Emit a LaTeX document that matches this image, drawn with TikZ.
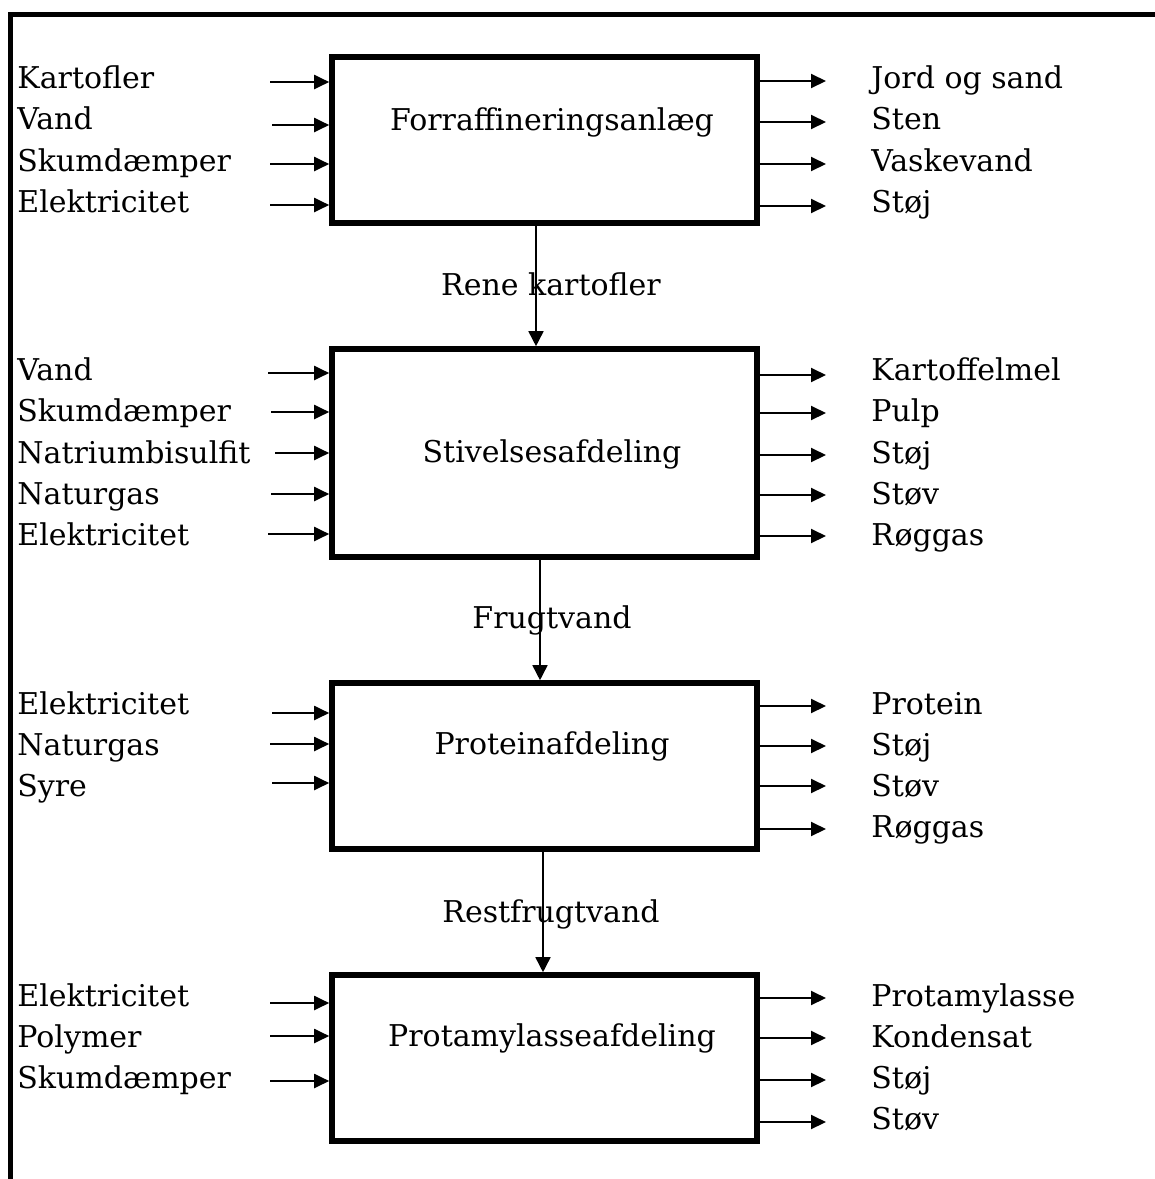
\documentclass[tikz,border=0pt]{standalone}
\usepackage{fontspec}
\setmainfont{DejaVu Serif}
\usetikzlibrary{arrows.meta,positioning}

\begin{document}
\begin{tikzpicture}[x=0.5pt, y=-0.5pt, font=\fontsize{15}{18}\selectfont,
    >={Triangle[length=7.5pt, width=7pt]},
    box/.style = {draw, line width=2.8pt, minimum width=212.5pt, inner sep=0pt},
    txt/.style = {anchor=base west, inner sep=0pt},
    mid/.style = {anchor=base, inner sep=0pt},
    flow/.style = {->, line width=1pt},
    main/.style = {-{Triangle[length=7.5pt, width=7.5pt]}, line width=0.8pt}]
    % Billedets ramme og marginer.
    \useasboundingbox (0,0) rectangle (1155,1179);
    \draw[line width=2.3pt] (10.5,1179) -- (10.5,14.5) -- (1155,14.5);

    % De fire afdelinger:
    \node[box, minimum height=83pt]  (forr) at (544.5,140)  {};
    \node[box, minimum height=104pt] (stiv) at (544.5,453)  {};
    \node[box, minimum height=83pt]  (prot) at (544.5,766)  {};
    \node[box, minimum height=83pt]  (pam)  at (544.5,1058) {};

    \node[mid] (forrT) at (552,130)  {Forraffineringsanlæg};
    \node[mid] (stivT) at (552,462)  {Stivelsesafdeling};
    \node[mid] (protT) at (552,754)  {Proteinafdeling};
    \node[mid] (pamT)  at (552,1046) {Protamylasseafdeling};

    % Tilførsler (tekst, grundlinje, pilens hoejde, pilens start).
    \foreach \t/\b/\a/\s [count=\i] in {Kartofler/88/82/270, Vand/129/125/272,
        Skumdæmper/171/164/270, Elektricitet/212/205/270} {
        \node[txt] (forrIn\i) at (17,\b) {\t};
        \coordinate (forrInS\i) at (\s,\a);
        \draw[flow] (forrInS\i) -- (forrInS\i -| forr.west);
    }
    \foreach \t/\b/\a/\s [count=\i] in {Vand/380/373/268, Skumdæmper/421/412/271,
        Natriumbisulfit/463/453/275, Naturgas/504/494/271, Elektricitet/545/534/268} {
        \node[txt] (stivIn\i) at (17,\b) {\t};
        \coordinate (stivInS\i) at (\s,\a);
        \draw[flow] (stivInS\i) -- (stivInS\i -| stiv.west);
    }
    \foreach \t/\b/\a/\s [count=\i] in {Elektricitet/714/713/272, Naturgas/755/744/270,
        Syre/796/783/272} {
        \node[txt] (protIn\i) at (17,\b) {\t};
        \coordinate (protInS\i) at (\s,\a);
        \draw[flow] (protInS\i) -- (protInS\i -| prot.west);
    }
    \foreach \t/\b/\a/\s [count=\i] in {Elektricitet/1006/1003/270, Polymer/1047/1036/270,
        Skumdæmper/1088/1081/270} {
        \node[txt] (pamIn\i) at (17,\b) {\t};
        \coordinate (pamInS\i) at (\s,\a);
        \draw[flow] (pamInS\i) -- (pamInS\i -| pam.west);
    }

    % Udledninger (tekst, grundlinje, pilens hoejde).
    \foreach \t/\b/\a [count=\i] in {Jord og sand/88/81, Sten/129/122,
        Vaskevand/171/164, Støj/212/206} {
        \coordinate (forrOutE\i) at (826,\a);
        \draw[flow] (forrOutE\i -| forr.east) -- (forrOutE\i);
        \node[txt] (forrOut\i) at (871,\b) {\t};
    }
    \foreach \t/\b/\a [count=\i] in {Kartoffelmel/380/375, Pulp/421/413,
        Støj/463/455, Støv/504/495, Røggas/545/536} {
        \coordinate (stivOutE\i) at (826,\a);
        \draw[flow] (stivOutE\i -| stiv.east) -- (stivOutE\i);
        \node[txt] (stivOut\i) at (871,\b) {\t};
    }
    \foreach \t/\b/\a [count=\i] in {Protein/714/706, Støj/755/746,
        Støv/796/786, Røggas/837/829} {
        \coordinate (protOutE\i) at (826,\a);
        \draw[flow] (protOutE\i -| prot.east) -- (protOutE\i);
        \node[txt] (protOut\i) at (871,\b) {\t};
    }
    \foreach \t/\b/\a [count=\i] in {Protamylasse/1006/998, Kondensat/1047/1038,
        Støj/1088/1080, Støv/1129/1122} {
        \coordinate (pamOutE\i) at (826,\a);
        \draw[flow] (pamOutE\i -| pam.east) -- (pamOutE\i);
        \node[txt] (pamOut\i) at (871,\b) {\t};
    }

    % Hovedstroemmen mellem afdelingerne.
    \coordinate (c1) at (536,0);
    \coordinate (c2) at (540,0);
    \coordinate (c3) at (543,0);
    \draw[main] (c1 |- forr.south) -- (c1 |- stiv.north);
    \node[mid] (c1L) at (551,295) {Rene kartofler};
    \draw[main] (c2 |- stiv.south) -- (c2 |- prot.north);
    \node[mid] (c2L) at (552,628) {Frugtvand};
    \draw[main] (c3 |- prot.south) -- (c3 |- pam.north);
    \node[mid] (c3L) at (551,922) {Restfrugtvand};
\end{tikzpicture}
\end{document}
